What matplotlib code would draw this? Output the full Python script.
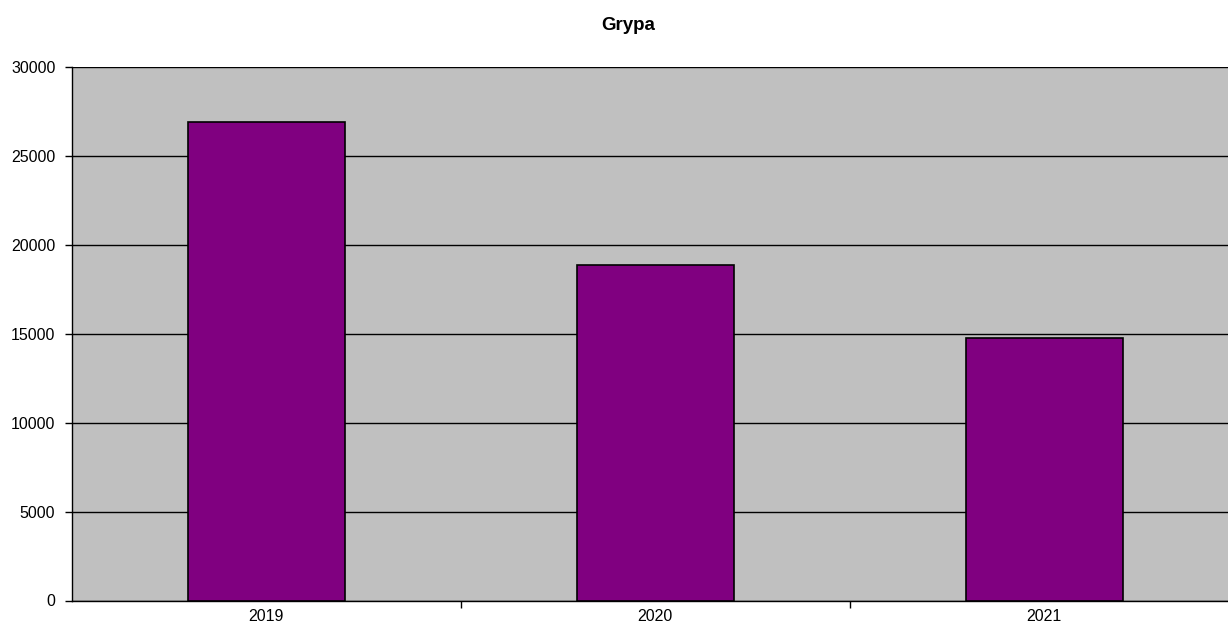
import matplotlib.pyplot as plt
import numpy as np

plt.rcParams['font.family'] = ['Liberation Sans', 'DejaVu Sans']

years = ['2019', '2020', '2021']
cases = [26950, 18900, 14750]
yticks = [0, 5000, 10000, 15000, 20000, 25000, 30000]

fig = plt.figure(figsize=(12.28, 6.24), dpi=100)
ax = fig.add_axes([72 / 1228, 1 - 600.5 / 624, 1 - 72 / 1228, 533.2 / 624])
ax.set_facecolor('#C0C0C0')

x = np.arange(len(years))
ax.bar(x, cases, width=0.404, color='#800080', edgecolor='black', linewidth=1.2, zorder=3)

ax.set_ylim(0, 30000)
ax.set_xlim(-0.5, 2.473)
ax.set_yticks(yticks)
ax.set_yticklabels([str(v) for v in yticks], fontsize=11.5)
ax.yaxis.grid(True, color='black', linewidth=1, zorder=1)
ax.set_axisbelow(True)

ax.set_xticks(x)
ax.set_xticklabels(years, fontsize=11.5)
ax.tick_params(axis='x', length=0, pad=6)
ax.set_xticks([0.5, 1.5], minor=True)
ax.tick_params(axis='x', which='minor', length=5, width=1)
ax.tick_params(axis='y', length=5, width=1, pad=7)

for side in ['top', 'right']:
    ax.spines[side].set_visible(False)
ax.spines['left'].set_linewidth(1)
ax.spines['bottom'].set_linewidth(1)

fig.text(628 / 1228, 1 - 26 / 624, 'Grypa', ha='center', va='center', fontsize=13.5, fontweight='bold')

fig.savefig('out.png', dpi=100)
